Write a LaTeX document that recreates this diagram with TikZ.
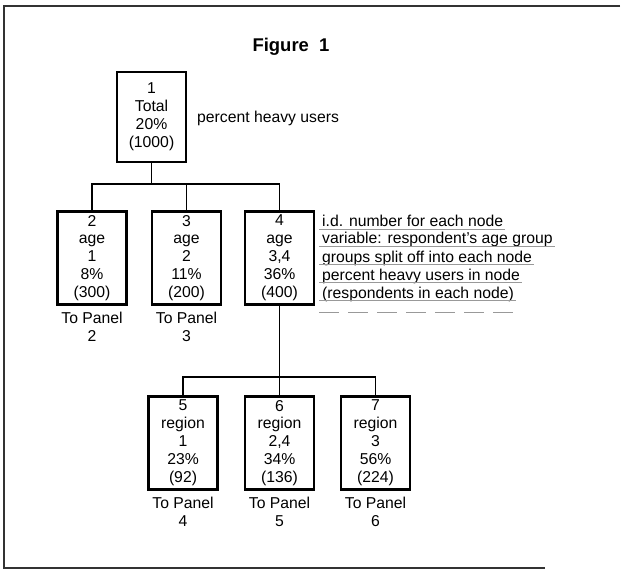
\documentclass[tikz,border=0pt]{standalone}
\usepackage{fontspec}
\setmainfont{Liberation Sans}
\begin{document}
\begin{tikzpicture}[x=1bp,y=-1bp,
  txt/.style={font=\fontsize{15.8}{18}\selectfont, align=center, inner sep=0pt},
  nodebox/.style={txt, draw, line width=2.4bp, minimum width=69bp, minimum height=93bp},
  conn/.style={line width=1.1bp},
  frame/.style={line width=1.6bp, draw=black!80},
  ann/.style={font=\fontsize{15.8}{18}\selectfont, inner sep=0pt, anchor=west},
  ul/.style={draw=black!40, line width=0.9bp}]
\useasboundingbox (0,0) rectangle (622,575);
% frame
\draw[frame] (620,6) -- (4,6) -- (4,568) -- (545,568);
% title
\node[font=\bfseries\fontsize{18.5}{22}\selectfont, inner sep=0pt] (title) at (291,47) {Figure\ \ 1};
% nodes
\node[nodebox, minimum height=90bp] (n1) at (151.5,117) {1\\Total\\20\%\\(1000)};
\node[ann] (lab1) at (197,118) {percent heavy users};
\node[nodebox] (n2) at (92,258) {2\\age\\1\\8\%\\(300)};
\node[nodebox] (n3) at (186.5,258) {3\\age\\2\\11\%\\(200)};
\node[nodebox] (n4) at (279.5,258) {4\\age\\3,4\\36\%\\(400)};
\node[nodebox] (n5) at (183,443) {5\\region\\1\\23\%\\(92)};
\node[nodebox] (n6) at (279.5,443) {6\\region\\2,4\\34\%\\(136)};
\node[nodebox] (n7) at (375.5,443) {7\\region\\3\\56\%\\(224)};
% panel labels
\node[txt, anchor=north] (p2) at ([yshift=-6bp]n2.south) {To Panel\\2};
\node[txt, anchor=north] (p3) at ([yshift=-6bp]n3.south) {To Panel\\3};
\node[txt, anchor=north] (p4) at ([yshift=-6bp]n5.south) {To Panel\\4};
\node[txt, anchor=north] (p5) at ([yshift=-6bp]n6.south) {To Panel\\5};
\node[txt, anchor=north] (p6) at ([yshift=-6bp]n7.south) {To Panel\\6};
% connectors
\coordinate (j1) at (151.5,184);
\coordinate (j2) at (279.5,377);
\draw[conn] (n1.south) -- (j1);
\draw[conn] (n2.north) -- (n2.north |- j1) -- (n4.north |- j1) -- (n4.north);
\draw[conn] (n3.north) -- (n3.north |- j1);
\draw[conn] (n4.south) -- (j2);
\draw[conn] (n5.north) -- (n5.north |- j2) -- (n7.north |- j2) -- (n7.north);
\draw[conn] (n6.north) -- (n6.north |- j2);
% annotations
\node[ann] (a1) at (322,221) {i.d. number for each node};
\node[ann] (a2) at (322,239.5) {variable: respondent's age group};
\node[ann] (a3) at (322,258) {groups split off into each node};
\node[ann] (a4) at (322,276) {percent heavy users in node};
\node[ann] (a5) at (322,294) {(respondents in each node)};
\foreach \a in {a1,a2,a3,a4,a5}{
  \draw[ul] ([xshift=-3bp,yshift=-2.5bp]\a.base west) -- ([xshift=2bp,yshift=-2.5bp]\a.base east);
}
\coordinate (dashend) at (515,312);
\draw[ul, dash pattern=on 20bp off 9bp] ([xshift=-3bp]a5.base west |- dashend) -- (dashend);
\end{tikzpicture}
\end{document}
